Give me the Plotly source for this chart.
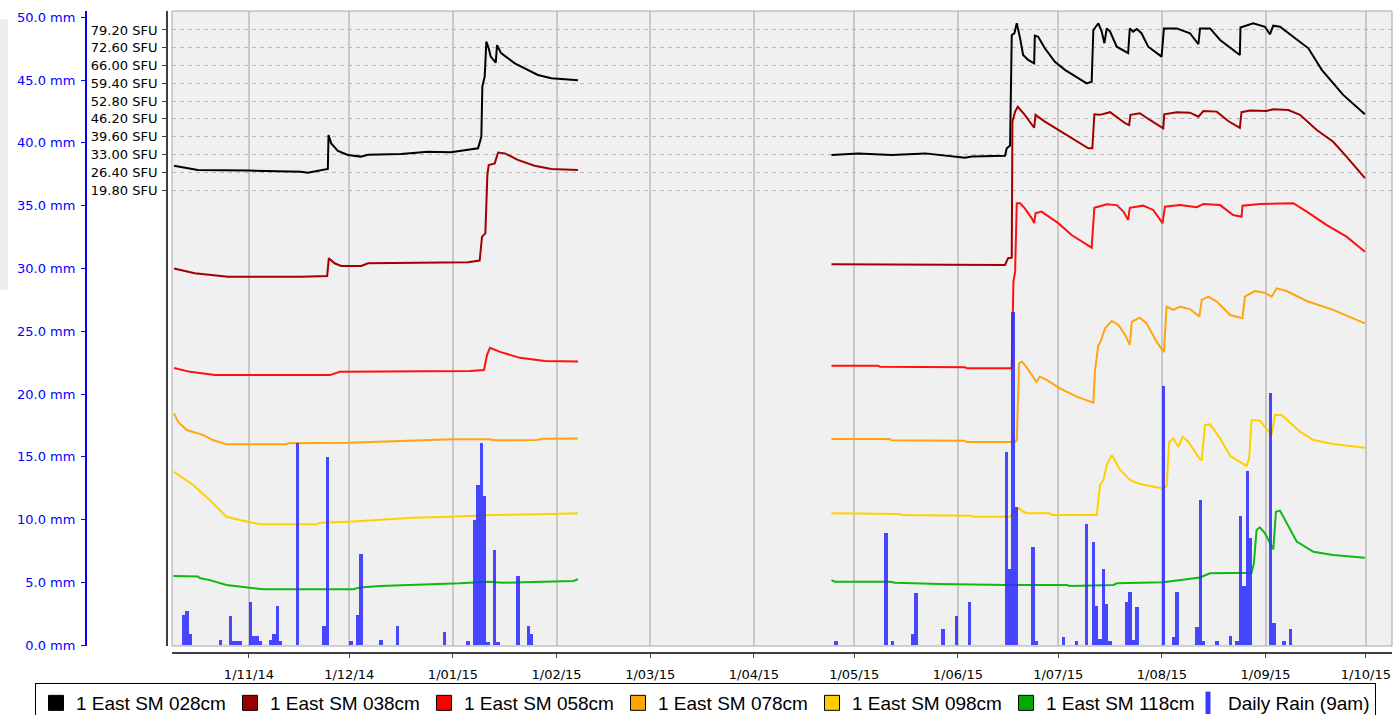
import plotly.graph_objects as go
from datetime import datetime, timedelta

BASE = datetime(2014, 11, 1)  # day 0 for all "days" arrays below

# ---------------- axis labels ----------------
month_ticks = ['2014-11-01', '2014-12-01', '2015-01-01', '2015-02-01', '2015-03-01', '2015-04-01',
               '2015-05-01', '2015-06-01', '2015-07-01', '2015-08-01', '2015-09-01', '2015-10-01']
month_labels = ['1/11/14', '1/12/14', '1/01/15', '1/02/15', '1/03/15', '1/04/15',
                '1/05/15', '1/06/15', '1/07/15', '1/08/15', '1/09/15', '1/10/15']
sfu_ticks = [19.8, 26.4, 33.0, 39.6, 46.2, 52.8, 59.4, 66.0, 72.6, 79.2]
sfu_labels = ['19.80 SFU', '26.40 SFU', '33.00 SFU', '39.60 SFU', '46.20 SFU',
              '52.80 SFU', '59.40 SFU', '66.00 SFU', '72.60 SFU', '79.20 SFU']
rain_ticks = [0, 5, 10, 15, 20, 25, 30, 35, 40, 45, 50]
rain_labels = ['0.0 mm', '5.0 mm', '10.0 mm', '15.0 mm', '20.0 mm', '25.0 mm',
               '30.0 mm', '35.0 mm', '40.0 mm', '45.0 mm', '50.0 mm']

# ---------------- soil moisture (SFU, stacked display scale) ----------------
# period A (Oct 2014 - Feb 2015) and period B (Apr - Oct 2015); days since 2014-11-01
sm028_days_a = [-22.4, -18.2, -15.3, -0.3, 15.6, 17.6, 22.6, 23.6, 23.8, 24.6, 26.6, 29.6, 33.4, 35.6, 45.5,
                53.5, 60.4, 65.5, 68.5, 69.0, 69.5, 69.8, 70.5, 71.0, 71.7, 72.3, 73.8, 74.2, 75.4, 79.5,
                83.4, 86.4, 90.4, 98.4]
sm028_vals_a = [28.8, 27.9, 27.2, 27.0, 26.6, 26.2, 27.2, 27.6, 40.2, 37.1, 34.3, 32.8, 32.2, 32.9, 33.2,
                34.0, 33.8, 34.9, 35.3, 37.4, 39.6, 58.2, 61.9, 74.9, 72.4, 69.3, 67.1, 73.6, 70.6, 66.8,
                64.4, 62.5, 61.3, 60.5]
sm028_days_b = [174.2, 182.2, 192.2, 202.2, 214.1, 216.1, 226.1, 226.6, 227.6, 228.1, 228.9, 229.6, 230.6,
                231.5, 233.0, 234.8, 235.0, 236.0, 238.0, 241.0, 244.0, 248.0, 250.5, 252.0, 252.5, 254.0,
                255.0, 255.8, 256.5, 257.5, 259.5, 262.9, 263.4, 264.4, 265.5, 266.9, 268.9, 272.9, 273.6,
                277.4, 281.4, 283.9, 284.4, 287.4, 290.4, 296.3, 296.5, 300.3, 303.8, 305.3, 306.3, 308.3,
                312.3, 316.8, 320.8, 324.8, 327.2, 333.7]
sm028_vals_b = [32.8, 33.4, 32.8, 33.4, 31.8, 32.2, 32.5, 35.3, 36.3, 77.3, 78.0, 81.7, 76.1,
                69.9, 68.1, 66.8, 77.1, 76.7, 72.4, 67.4, 64.4, 61.3, 59.4, 60.0, 79.2, 81.7,
                78.6, 74.3, 79.8, 78.6, 73.0, 70.6, 79.8, 78.6, 79.6, 78.0, 73.0, 69.3, 79.8,
                79.8, 78.0, 73.9, 79.8, 79.8, 75.5, 69.9, 80.1, 81.7, 80.4, 77.6, 80.8, 80.4,
                76.7, 72.4, 64.4, 58.8, 55.1, 47.9]

sm038_days_a = [-22.4, -16.2, -6.3, 15.6, 23.4, 23.9, 25.6, 27.6, 33.6, 35.6, 65.5, 69.0, 69.7, 70.7,
                71.3, 71.7, 73.5, 74.5, 76.5, 80.4, 85.4, 90.4, 98.4]
sm038_vals_a = [-9.3, -11.1, -12.4, -12.4, -12.1, -5.5, -7.4, -8.4, -8.4, -7.4, -7.0, -6.4, 2.5, 3.7,
                25.4, 29.1, 29.7, 33.7, 33.4, 31.0, 28.8, 27.6, 27.2]
sm038_days_b = [174.2, 226.1, 227.0, 228.1, 228.3, 229.1, 229.9, 232.0, 234.8, 235.2, 238.0, 242.0, 246.0,
                251.0, 252.2, 252.8, 254.5, 257.5, 262.0, 263.2, 263.6, 266.4, 269.4, 273.4, 273.7, 277.4,
                281.4, 283.9, 285.4, 289.4, 292.8, 296.3, 296.8, 299.3, 304.3, 306.3, 310.8, 314.3, 319.3,
                324.2, 328.2, 333.7]
sm038_vals_b = [-7.8, -8.0, -5.5, -5.3, 45.2, 48.9, 50.7, 47.7, 42.9, 47.7, 45.2, 42.1, 39.0,
                35.3, 35.3, 47.9, 47.7, 48.7, 44.6, 43.9, 47.7, 48.3, 45.8, 42.7, 47.9, 48.7,
                48.5, 47.0, 49.1, 48.9, 45.4, 42.9, 48.7, 49.3, 49.1, 49.8, 49.5, 47.7, 42.1,
                37.7, 32.2, 24.2]

sm058_days_a = [-22.4, -17.6, -10.2, 24.2, 27.2, 66.1, 70.3, 71.2, 72.1, 75.1, 81.0, 88.5, 98.4]
sm058_vals_a = [-46.3, -47.7, -48.9, -48.9, -47.7, -47.4, -47.0, -41.4, -38.8, -40.3, -42.5, -43.7, -43.9]
sm058_days_b = [174.2, 188.2, 188.7, 214.1, 214.6, 228.1, 228.6, 229.1, 229.6, 230.6, 232.0, 234.1, 234.8,
                235.2, 237.0, 242.0, 246.0, 252.0, 252.8, 256.5, 259.5, 261.5, 262.9, 263.4, 267.4, 270.4,
                273.2, 273.9, 278.4, 283.4, 285.4, 290.4, 294.3, 296.8, 297.1, 302.3, 312.3, 316.3, 322.3,
                328.2, 333.7]
sm058_vals_b = [-45.4, -45.4, -45.8, -46.0, -46.4, -46.4, -14.2, -10.5, 14.9, 14.9, 13.0, 9.3, 7.5,
                11.2, 11.8, 7.5, 3.1, -1.6, 13.2, 14.5, 14.2, 11.8, 8.7, 13.2, 14.0, 12.4,
                7.5, 13.6, 14.2, 13.4, 14.6, 14.2, 10.5, 9.9, 14.0, 14.6, 14.9, 11.8, 6.8,
                2.5, -3.1]

sm078_days_a = [-22.4, -21.2, -18.6, -13.8, -10.8, -6.7, 11.3, 11.7, 29.6, 45.2, 61.0, 72.1, 73.0, 86.0,
                87.9, 98.4]
sm078_vals_a = [-63.1, -66.2, -69.3, -71.1, -73.0, -74.6, -74.6, -74.2, -74.0, -73.4, -72.7, -72.7, -73.1,
                -73.0, -72.5, -72.4]
sm078_days_b = [174.2, 191.7, 192.0, 214.1, 214.6, 229.1, 229.6, 230.3, 231.1, 232.0, 235.5, 236.5, 238.5,
                242.5, 247.5, 252.5, 253.0, 254.0, 254.5, 256.0, 258.0, 260.0, 262.0, 263.4, 264.0, 266.4,
                268.4, 271.4, 273.6, 274.4, 276.4, 278.4, 281.4, 284.2, 284.9, 286.9, 289.4, 293.4, 297.1,
                297.8, 300.8, 303.8, 305.8, 307.3, 310.3, 316.3, 324.2, 333.7]
sm078_vals_b = [-72.6, -72.6, -73.1, -73.3, -73.7, -73.7, -73.0, -44.5, -43.9, -45.1, -51.4, -49.5, -50.7,
                -53.8, -56.9, -59.1, -47.0, -37.7, -37.1, -31.5, -28.8, -30.3, -34.0, -37.7, -29.1, -27.6,
                -29.7, -36.5, -40.4, -23.5, -24.7, -23.5, -24.4, -27.2, -21.0, -19.8, -21.6, -26.6, -27.8,
                -19.8, -17.7, -18.3, -19.8, -16.7, -17.7, -21.4, -24.7, -29.7]

sm098_days_a = [-22.4, -16.7, -11.7, -6.7, -2.7, 3.3, 20.2, 21.2, 29.7, 39.2, 49.1, 60.1, 73.1, 91.0, 98.4]
sm098_vals_a = [-84.8, -89.7, -95.3, -101.5, -102.7, -104.3, -104.3, -103.7, -103.3, -102.7, -101.9,
                -101.5, -100.8, -100.5, -100.2]
sm098_days_b = [174.2, 194.7, 195.2, 216.1, 216.6, 227.6, 230.1, 231.5, 232.6, 239.5, 240.0, 253.5, 254.5,
                255.5, 256.5, 258.0, 260.5, 263.4, 266.4, 269.4, 272.9, 274.4, 275.2, 276.4, 277.9, 279.2,
                280.9, 284.4, 284.9, 285.9, 287.4, 290.4, 293.4, 298.3, 299.1, 299.8, 302.3, 305.8, 306.8,
                308.8, 314.3, 318.3, 324.2, 333.7]
sm098_vals_b = [-100.2, -100.5, -100.8, -101.1, -101.5, -101.5, -98.3, -99.6, -100.2, -100.2, -100.8,
                -100.8, -89.7, -87.8, -82.3, -78.6, -84.1, -87.8, -89.3, -90.1, -90.9, -90.3, -73.6,
                -72.4, -75.5, -71.8, -73.6, -80.2, -80.4, -67.4, -67.2, -72.4, -78.9, -82.6, -79.8,
                -65.6, -65.8, -71.1, -63.7, -63.7, -69.9, -73.0, -74.5, -75.9]

sm118_days_a = [-22.6, -15.2, -14.7, -11.7, -6.7, -0.7, 4.3, 31.2, 33.2, 39.2, 51.1, 63.1, 71.6, 76.0,
                82.0, 97.0, 98.4]
sm118_vals_a = [-123.5, -123.7, -124.2, -125.0, -126.8, -127.7, -128.4, -128.4, -127.7, -127.2, -126.8,
                -126.2, -125.6, -126.0, -125.8, -125.3, -124.7]
sm118_days_b = [174.2, 175.2, 191.7, 193.2, 206.6, 223.6, 226.6, 244.5, 245.5, 258.5, 259.5, 273.4, 279.9,
                284.4, 287.4, 299.8, 300.5, 301.3, 302.3, 303.8, 306.3, 307.1, 308.3, 310.3, 313.3, 318.3,
                324.2, 333.7]
sm118_vals_b = [-125.0, -125.6, -125.6, -126.0, -126.4, -126.9, -126.8, -126.8, -127.2, -126.8, -126.2,
                -125.8, -124.6, -124.0, -122.5, -122.3, -118.8, -106.4, -105.4, -107.6, -113.6, -99.6,
                -99.2, -103.9, -110.7, -114.5, -115.7, -116.7]

# ---------------- daily rain (mm) ----------------
rain_days = [-20, -19, -18, -9, -6, -5, -4, -3, 0, 1, 2, 3, 6, 7, 8, 9, 14, 22, 23, 30, 32, 33, 39, 44,
             58, 65, 67, 68, 69, 70, 71, 73, 74, 80, 83, 84,
             175, 190, 192, 198, 199, 207, 211, 215, 226, 227, 228, 229, 234, 235, 243, 247, 250, 252,
             253, 254, 255, 256, 257, 262, 263, 264, 265, 273, 276, 277, 283, 284, 285, 289, 293, 295,
             296, 297, 298, 299, 305, 306, 309, 311]
rain_mm = [2.4, 2.7, 0.9, 0.45, 2.3, 0.3, 0.3, 0.3, 3.45, 0.7, 0.7, 0.3, 0.45, 0.9, 3.1, 0.3, 16.1, 1.5,
           15.0, 0.3, 2.4, 7.25, 0.45, 1.5, 1.05, 0.3, 10.0, 12.75, 16.1, 11.9, 0.25, 7.6, 0.25, 5.5,
           1.5, 0.9,
           0.3, 8.9, 0.3, 0.93, 4.2, 1.33, 2.34, 3.45, 15.4, 6.1, 26.5, 11.0, 7.84, 0.3, 0.66, 0.3, 9.65,
           8.24, 3.1, 0.5, 6.1, 3.3, 0.3, 3.45, 4.25, 0.45, 3.05, 20.65, 0.66, 4.25, 1.46, 11.56, 0.3,
           0.35, 0.7, 0.3, 10.3, 4.7, 13.9, 8.5, 20.1, 1.8, 0.3, 1.33]

series = [
    ('1 East SM 028cm', '#000000', '#000000', sm028_days_a, sm028_vals_a, sm028_days_b, sm028_vals_b),
    ('1 East SM 038cm', '#a00000', '#990000', sm038_days_a, sm038_vals_a, sm038_days_b, sm038_vals_b),
    ('1 East SM 058cm', '#ff1010', '#ff0000', sm058_days_a, sm058_vals_a, sm058_days_b, sm058_vals_b),
    ('1 East SM 078cm', '#ffa510', '#ffa500', sm078_days_a, sm078_vals_a, sm078_days_b, sm078_vals_b),
    ('1 East SM 098cm', '#ffd000', '#ffcc00', sm098_days_a, sm098_vals_a, sm098_days_b, sm098_vals_b),
    ('1 East SM 118cm', '#10b810', '#00aa00', sm118_days_a, sm118_vals_a, sm118_days_b, sm118_vals_b),
]
legend_widths = [149, 149, 149, 149, 149, 137]
RAIN_COLOR = 'rgba(45,45,255,0.88)'


def to_dates(days):
    return [BASE + timedelta(days=d) if d is not None else None for d in days]


fig = go.Figure()

for name, lcol, scol, da, va, db, vb in series:
    fig.add_trace(go.Scatter(
        x=to_dates(da + [None] + db), y=va + [None] + vb,
        mode='lines', line=dict(color=lcol, width=2), connectgaps=False,
        yaxis='y', showlegend=False, hoverinfo='skip'))

fig.add_trace(go.Bar(
    x=to_dates(rain_days), y=rain_mm, yaxis='y2',
    width=86400000, xperiod=86400000, xperiodalignment='middle',
    marker=dict(color=RAIN_COLOR, line=dict(width=0)),
    showlegend=False, hoverinfo='skip'))

# legend entries
for (name, lcol, scol, *_), lw in zip(series, legend_widths):
    fig.add_trace(go.Scatter(
        x=[None], y=[None], mode='markers', name=name, legendwidth=lw,
        marker=dict(symbol='square', size=15, color=scol, line=dict(color='#000000', width=1))))
fig.add_trace(go.Scatter(
    x=[None], y=[None], mode='markers', name='Daily Rain (9am)',
    marker=dict(symbol='line-ns', size=16, color='#3a3aff', line=dict(color='#3a3aff', width=6))))

W, H = 1395, 715
TICKFONT = dict(family='DejaVu Sans', size=13, color='#000000')

fig.update_layout(
    width=W, height=H,
    margin=dict(l=0, r=0, t=0, b=0, autoexpand=False),
    paper_bgcolor='#ffffff', plot_bgcolor='#f0f0f0',
    barmode='overlay', bargap=0,
    xaxis=dict(
        type='date', domain=[172 / W, 1392 / W], anchor='free', position=1 - 653 / H,
        range=[BASE - timedelta(days=23.0), BASE + timedelta(days=341.8)],
        tickvals=month_ticks, ticktext=month_labels, tickfont=TICKFONT, ticklabelstandoff=5,
        showgrid=True, gridcolor='#c8c8c8', gridwidth=2,
        showline=True, linecolor='#404040', linewidth=2,
        ticks='outside', ticklen=4, tickcolor='#404040', zeroline=False),
    yaxis=dict(
        domain=[1 - 646 / H, 1 - 11 / H], anchor='free', position=167 / W, side='left',
        range=[-149.46, 86.25], tickvals=sfu_ticks, ticktext=sfu_labels, tickfont=TICKFONT,
        ticklabelstandoff=2,
        showgrid=True, gridcolor='#b8b8b8', gridwidth=1, griddash='4px,4px',
        showline=True, linecolor='#404040', linewidth=2,
        ticks='outside', ticklen=4, tickcolor='#404040', zeroline=False),
    yaxis2=dict(
        overlaying='y', anchor='free', position=86 / W, side='left',
        range=[-0.06, 50.5], tickvals=rain_ticks, ticktext=rain_labels,
        tickfont=dict(family='DejaVu Sans', size=13, color='#0000ff'), ticklabelstandoff=3,
        showgrid=False, showline=True, linecolor='#0000ff', linewidth=2,
        ticks='outside', ticklen=4, tickcolor='#0000ff', zeroline=False),
    legend=dict(
        orientation='h', x=35 / W, y=1 - 683 / H, xanchor='left', yanchor='top',
        font=dict(family='Liberation Sans, Arial', size=19, color='#000000'),
        bgcolor='#ffffff', bordercolor='#000000', borderwidth=1, traceorder='normal'),
    shapes=[
        dict(type='rect', xref='x domain', yref='y domain', x0=0, x1=1, y0=0, y1=1,
             line=dict(color='#a8a8a8', width=1), layer='above'),
        dict(type='rect', xref='paper', yref='paper', x0=0, x1=8 / W, y0=1 - 290 / H, y1=1 - 19 / H,
             fillcolor='#eeeeee', line=dict(width=0), layer='below'),
    ],
    showlegend=True,
)

fig.write_html('out.html')
